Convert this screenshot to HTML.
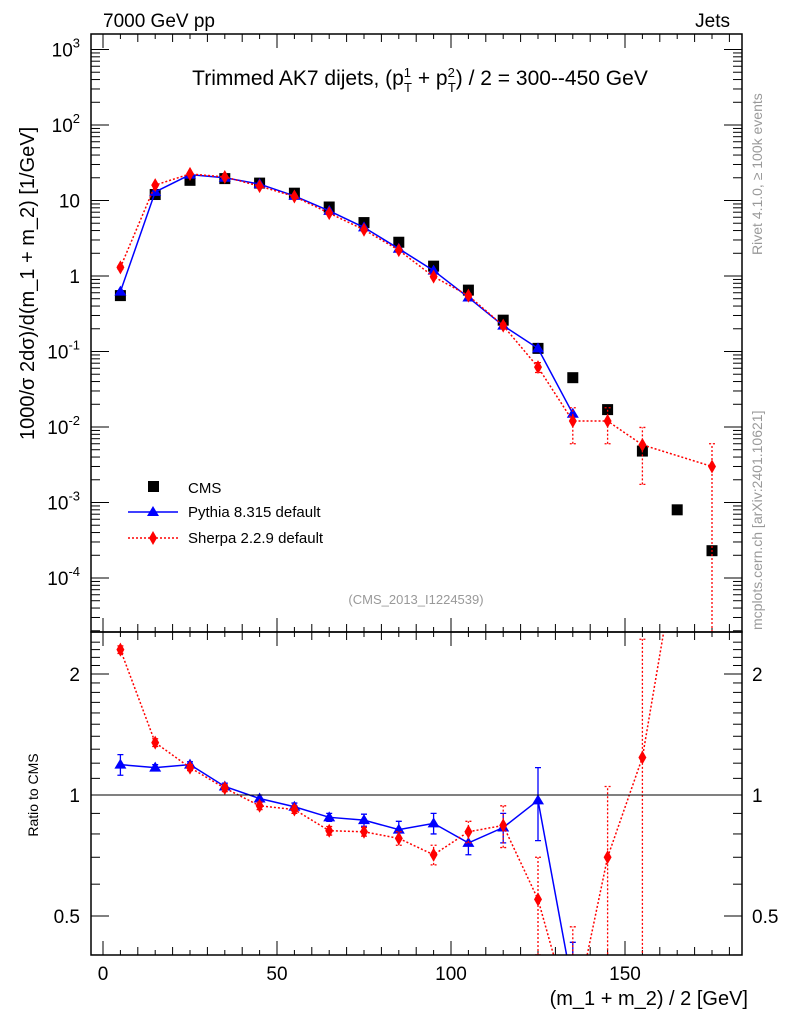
<!DOCTYPE html>
<html><head><meta charset="utf-8"><style>
html,body{margin:0;padding:0;background:#fff;overflow:hidden;width:786px;height:1024px}
svg{display:block;font-family:"Liberation Sans",sans-serif}
</style></head><body>
<svg id="c" width="786" height="1024" viewBox="0 0 786 1024">
<text x="103" y="27" font-size="19">7000 GeV pp</text>
<text x="730" y="27" font-size="19" text-anchor="end">Jets</text>
<text x="420" y="85" font-size="21" text-anchor="middle">Trimmed AK7 dijets, (p<tspan font-size="13" dy="-8">1</tspan><tspan font-size="13" dx="-7" dy="15">T</tspan><tspan dy="-7"> + p</tspan><tspan font-size="13" dy="-8">2</tspan><tspan font-size="13" dx="-7" dy="15">T</tspan><tspan dy="-7">) / 2 = 300--450 GeV</tspan></text>
<text transform="translate(34,440) rotate(-90)" font-size="20">1000/σ   2dσ)/d(m_1 + m_2) [1/GeV]</text>
<text transform="translate(38,795) rotate(-90)" font-size="14" text-anchor="middle">Ratio to CMS</text>
<text x="748" y="1005" font-size="20" text-anchor="end">(m_1 + m_2) / 2 [GeV]</text>
<text transform="translate(762,255) rotate(-90)" font-size="14" fill="#999">Rivet 4.1.0, ≥ 100k events</text>
<text transform="translate(762,630) rotate(-90)" font-size="14" fill="#999">mcplots.cern.ch [arXiv:2401.10621]</text>
<text x="416" y="604" font-size="13" fill="#999" text-anchor="middle">(CMS_2013_I1224539)</text>
<g id="g"></g>
<rect x="91" y="34" width="651" height="598" fill="none" stroke="#000" stroke-width="1.5"/>
<rect x="91" y="632" width="651" height="323" fill="none" stroke="#000" stroke-width="1.5"/>
<line x1="91" x2="742" y1="795" y2="795" stroke="#000"/>
<g>
<rect x="148" y="481" width="11" height="11" fill="#000"/>
<text x="188" y="493" font-size="15">CMS</text>
<line x1="128" x2="178" y1="512" y2="512" stroke="#00f" stroke-width="1.5"/>
<path d="M153 506 L159 516 L147 516Z" fill="#00f"/>
<text x="188" y="517" font-size="15">Pythia 8.315 default</text>
<line x1="128" x2="178" y1="538" y2="538" stroke="#f00" stroke-width="1.5" stroke-dasharray="2,2"/>
<path d="M153 531 L157 538 L153 545 L149 538Z" fill="#f00"/>
<text x="188" y="543" font-size="15">Sherpa 2.2.9 default</text>
</g>
</svg>
<script>
const xCenters=[5,15,25,35,45,55,65,75,85,95,105,115,125,135,145,155,165,175];
const cmsVals=[0.55,12,18.5,19.5,17,12.5,8.2,5.1,2.8,1.35,0.65,0.26,0.11,0.045,0.017,0.0048,0.0008,0.00023];
const pythiaVals=[0.62,13,22,20,16.5,11.5,7.3,4.4,2.3,1.18,0.52,0.22,0.11,0.015,null,null,null,null];
const sherpaVals=[1.3,16,22.5,20.5,15.5,11.3,6.8,4.1,2.2,0.98,0.55,0.22,0.062,0.012,0.012,0.0058,null,0.003];
const sherpaErrRel=[0.05,0.03,0.03,0.03,0.03,0.03,0.03,0.03,0.04,0.05,0.06,0.08,0.15,0.5,0.5,0.7,0,1.0];
const pythiaRatio=[1.19,1.17,1.19,1.05,0.98,0.935,0.88,0.866,0.82,0.85,0.76,0.83,0.97,0.33,null,null,null,null];
const pythiaRatioErr=[0.07,0.02,0.02,0.02,0.02,0.02,0.02,0.03,0.04,0.05,0.05,0.07,0.2,0.1,0,0,0,0];
const sherpaRatio=[2.3,1.35,1.17,1.04,0.94,0.92,0.815,0.81,0.78,0.71,0.81,0.84,0.55,0.27,0.70,1.24,null,13];
const sherpaRatioErr=[0.05,0.03,0.02,0.02,0.02,0.02,0.02,0.02,0.03,0.04,0.05,0.1,0.15,0.2,0.35,1.2,0,10];
const xTicks=[0,50,100,150];
const mainTickExps=[-4,-3,-2,-1,0,1,2,3];
const ratioTicks=[0.5,1,2];

const X=v=>103+3.48*v;
const Y=v=>276-75.5*Math.log10(v);
const R=v=>795-121*Math.log2(v);
const NS="http://www.w3.org/2000/svg";
const g=document.getElementById('g');
function el(t,a){const e=document.createElementNS(NS,t);for(const k in a)e.setAttribute(k,a[k]);g.appendChild(e);return e;}
const defs=el('defs',{});
defs.innerHTML='<clipPath id="cm"><rect x="91" y="34" width="651" height="598"/></clipPath><clipPath id="cr"><rect x="91" y="632" width="651" height="323"/></clipPath>';
for(let v=0;v<=180;v+=5){const big=v%50===0, mid=v%10===0;const L=big?14:(mid?8:5);
 for(const yb of [632,955]){el('line',{x1:X(v),x2:X(v),y1:yb,y2:yb-L,stroke:'#000'});el('line',{x1:X(v),x2:X(v),y1:(yb===632?34:632),y2:(yb===632?34:632)+L,stroke:'#000'});}}
xTicks.forEach(v=>{const t=el('text',{x:X(v),y:980,'font-size':19,'text-anchor':'middle'});t.textContent=v;

});
for(let e=-5;e<=3;e++){for(let m=1;m<10;m++){const v=m*Math.pow(10,e);const y=Y(v);if(y<34||y>632)continue;const L=m===1?18:9;
 el('line',{x1:91,x2:91+L,y1:y,y2:y,stroke:'#000'});el('line',{x1:742,x2:742-L,y1:y,y2:y,stroke:'#000'});}}
mainTickExps.forEach(e=>{const y=Y(Math.pow(10,e));let t;
 if(e===0||e===1){t=el('text',{x:80,y:y+7,'font-size':19,'text-anchor':'end'});t.textContent=e===0?'1':'10';}
 else{t=el('text',{x:80,y:y+7,'font-size':19,'text-anchor':'end'});t.innerHTML='10<tspan font-size="13" dy="-9">'+e+'</tspan>';}
 
 });
for(let v=0.4;v<=2.5;v+=0.1){const y=R(v);if(y<632||y>955)continue;const big=[0.5,1,2].some(z=>Math.abs(z-v)<1e-6);const L=big?18:9;
 el('line',{x1:91,x2:91+L,y1:y,y2:y,stroke:'#000'});el('line',{x1:742,x2:742-L,y1:y,y2:y,stroke:'#000'});}
ratioTicks.forEach(v=>{const y=R(v);for(const [x,a] of [[80,'end'],[752,'start']]){const t=el('text',{x:x,y:y+7,'font-size':19,'text-anchor':a});t.textContent=v;
 
 }});
function series(vals,fy,color,dash,clip,name,errs,rel){
 const grp=el('g',{'clip-path':'url(#'+clip+')'});
 
 
 let d='';vals.forEach((v,i)=>{if(v==null)return;d+=(d?'L':'M')+X(xCenters[i])+' '+fy(v)+' ';});
 const p=document.createElementNS(NS,'path');p.setAttribute('d',d);p.setAttribute('fill','none');p.setAttribute('stroke',color);p.setAttribute('stroke-width',1.5);if(dash)p.setAttribute('stroke-dasharray',dash);grp.appendChild(p);
 vals.forEach((v,i)=>{if(v==null)return;const x=X(xCenters[i]);
  if(errs&&errs[i]>0){const lo=rel?v*(1-errs[i]):v-errs[i],hi=rel?v*(1+errs[i]):v+errs[i];
   const y1=lo>0?fy(lo):2000,y2=fy(hi);
   const e=document.createElementNS(NS,'path');e.setAttribute('d',`M${x} ${y1}L${x} ${y2}M${x-3} ${y1}L${x+3} ${y1}M${x-3} ${y2}L${x+3} ${y2}`);e.setAttribute('stroke',color);e.setAttribute('stroke-width',1.3);if(dash)e.setAttribute('stroke-dasharray',dash);grp.appendChild(e);}
  const y=fy(v);const m=document.createElementNS(NS,'path');
  m.setAttribute('d',color==='#00f'?`M${x} ${y-6}L${x+6} ${y+4}L${x-6} ${y+4}Z`:`M${x} ${y-7}L${x+4} ${y}L${x} ${y+7}L${x-4} ${y}Z`);
  m.setAttribute('fill',color);grp.appendChild(m);});
}
const cg=el('g',{'clip-path':'url(#cm)'});


cmsVals.forEach((v,i)=>{const r=document.createElementNS(NS,'rect');r.setAttribute('x',X(xCenters[i])-5.5);r.setAttribute('y',Y(v)-5.5);r.setAttribute('width',11);r.setAttribute('height',11);r.setAttribute('fill','#000');cg.appendChild(r);});
series(pythiaVals,Y,'#00f',null,'cm','pythia-series',null,true);
series(sherpaVals,Y,'#f00','2,2','cm','sherpa-series',sherpaErrRel,true);
series(pythiaRatio,R,'#00f',null,'cr','pythia-ratio',pythiaRatioErr,false);
series(sherpaRatio,R,'#f00','2,2','cr','sherpa-ratio',sherpaRatioErr,false);
</script>
</body></html>
